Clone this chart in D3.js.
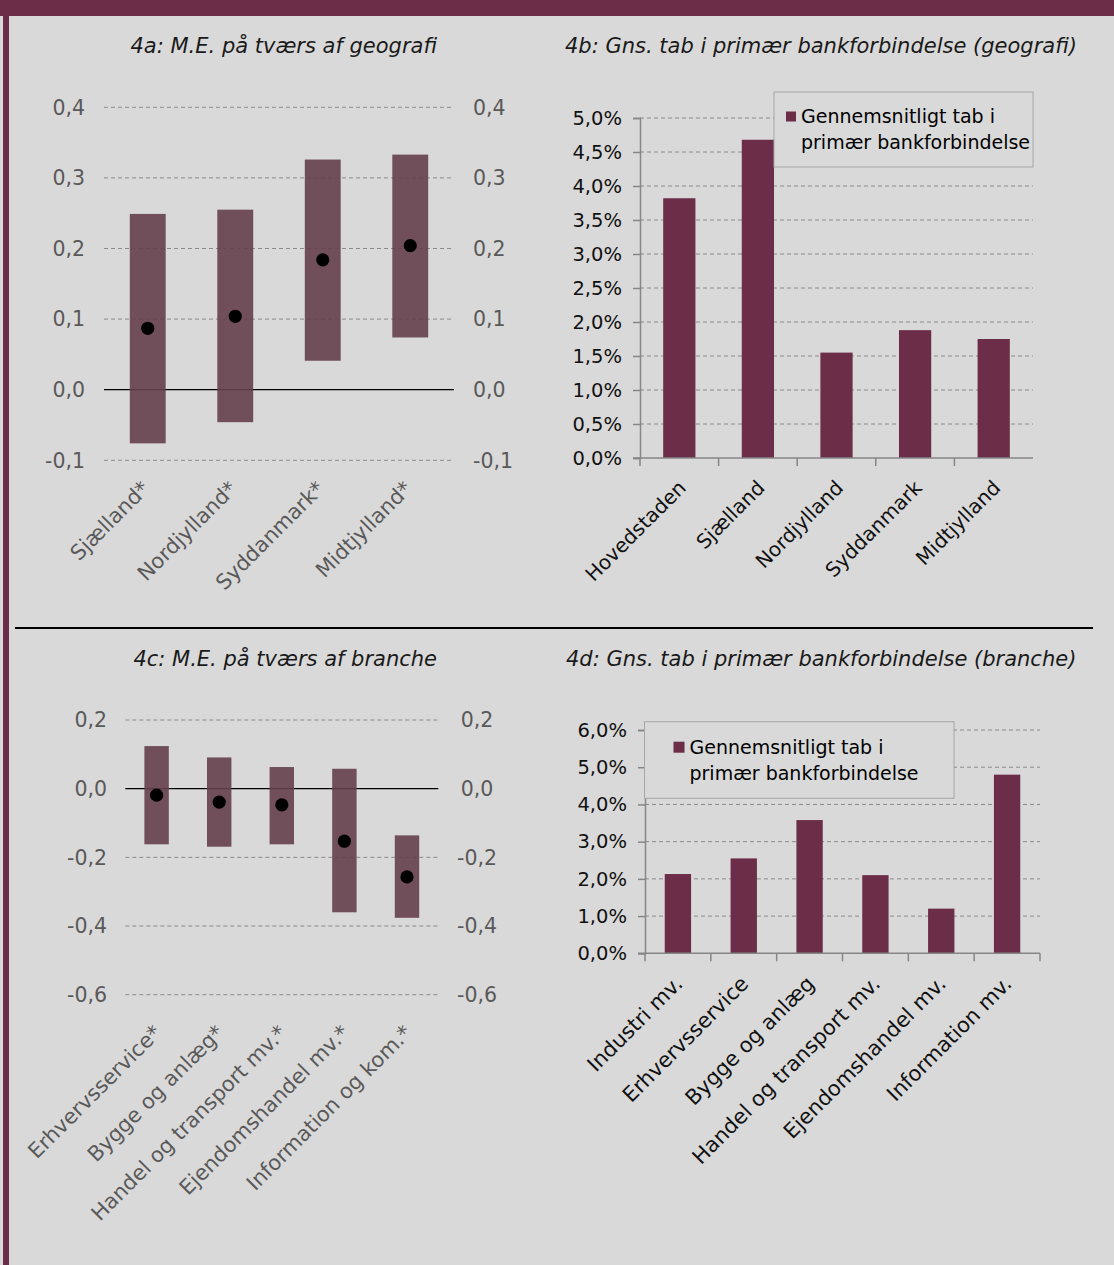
<!DOCTYPE html>
<html>
<head>
<meta charset="utf-8">
<script src="https://cdn.jsdelivr.net/npm/d3@7"></script>
<style>
    html, body { margin: 0; padding: 0; background: #d9d9d9; }
    svg { display: block; font-family: 'DejaVu Sans', Verdana, sans-serif; }
</style>
</head>
<body>
<svg id="chart" width="1114" height="1265"></svg>
<script>

// 4a: marginal effects by region
var geoMeCategories = [ 'Sjælland*', 'Nordjylland*', 'Syddanmark*', 'Midtjylland*' ];
var geoMeLow = [ -0.076, -0.046, 0.041, 0.074 ];
var geoMeHigh = [ 0.249, 0.255, 0.326, 0.333 ];
var geoMeEstimate = [ 0.087, 0.104, 0.184, 0.204 ];
var geoMeTicks = [ -0.1, 0, 0.1, 0.2, 0.3, 0.4 ];

// 4b: average loss by region
var geoLossCategories = [ 'Hovedstaden', 'Sjælland', 'Nordjylland', 'Syddanmark', 'Midtjylland' ];
var geoLossValues = [ 0.0382, 0.0468, 0.0155, 0.0188, 0.0175 ];
var geoLossTicks = [ 0, 0.005, 0.01, 0.015, 0.02, 0.025, 0.03, 0.035, 0.04, 0.045, 0.05 ];

// 4c: marginal effects by industry
var branchMeCategories = [ 'Erhvervsservice*', 'Bygge og anlæg*', 'Handel og transport mv.*', 'Ejendomshandel mv.*', 'Information og kom.*' ];
var branchMeLow = [ -0.162, -0.169, -0.162, -0.360, -0.376 ];
var branchMeHigh = [ 0.124, 0.091, 0.063, 0.058, -0.136 ];
var branchMeEstimate = [ -0.019, -0.039, -0.047, -0.153, -0.257 ];
var branchMeTicks = [ -0.6, -0.4, -0.2, 0, 0.2 ];

// 4d: average loss by industry
var branchLossCategories = [ 'Industri mv.', 'Erhvervsservice', 'Bygge og anlæg', 'Handel og transport mv.', 'Ejendomshandel mv.', 'Information mv.' ];
var branchLossValues = [ 0.0213, 0.0255, 0.0358, 0.0210, 0.0120, 0.0480 ];
var branchLossTicks = [ 0, 0.01, 0.02, 0.03, 0.04, 0.05, 0.06 ];

var legendLines = [ 'Gennemsnitligt tab i', 'primær bankforbindelse' ];

var maroon = '#6b2d47';
var gridColor = '#8a8a8a';

var locale = d3.formatLocale({ decimal: ',', thousands: '.', grouping: [ 3 ], currency: [ '', ' kr' ], minus: '-' });
var fmtMe = locale.format('.1f');
var fmtPct = locale.format('.1%');

var svg = d3.select('#chart');

svg.append('rect')
    .attr('width', 1114)
    .attr('height', 1265)
    .attr('fill', '#d9d9d9');

// frame
svg.append('rect')
    .attr('x', 0).attr('y', 0)
    .attr('width', 1114).attr('height', 16)
    .attr('fill', maroon);

svg.append('rect')
    .attr('x', 3).attr('y', 16)
    .attr('width', 6).attr('height', 1249)
    .attr('fill', maroon);

svg.append('line')
    .attr('x1', 15).attr('x2', 1093)
    .attr('y1', 628).attr('y2', 628)
    .attr('stroke', '#000')
    .attr('stroke-width', 2);

// titles
var titles = [
    { text: '4a: M.E. på tværs af geografi', x: 437, y: 53, anchor: 'end' },
    { text: '4b: Gns. tab i primær bankforbindelse (geografi)', x: 565, y: 53, anchor: 'start' },
    { text: '4c: M.E. på tværs af branche', x: 437, y: 666, anchor: 'end' },
    { text: '4d: Gns. tab i primær bankforbindelse (branche)', x: 566, y: 666, anchor: 'start' }
];

svg.selectAll('.title')
    .data( titles )
    .enter().append('text')
    .attr('class', 'title')
    .attr('x', function ( d ) { return d.x; })
    .attr('y', function ( d ) { return d.y; })
    .attr('text-anchor', function ( d ) { return d.anchor; })
    .style('font-style', 'italic')
    .style('font-size', '21px')
    .style('fill', '#1a1a1a')
    .text( function ( d ) { return d.text; });

function drawMePanel ( o ) {

    var g = svg.append('g');

    var x = d3.scaleBand()
        .domain( o.categories )
        .range([ o.left, o.right ])
        .paddingInner( o.padding )
        .paddingOuter( o.padding / 2 );

    var y = d3.scaleLinear()
        .domain([ o.ticks[0], o.ticks[ o.ticks.length - 1 ] ])
        .range([ o.bottom, o.top ]);

    g.selectAll('.grid')
        .data( o.ticks.filter( function ( t ) { return t !== 0; }) )
        .enter().append('line')
        .attr('x1', o.left).attr('x2', o.right)
        .attr('y1', function ( d ) { return y( d ); })
        .attr('y2', function ( d ) { return y( d ); })
        .attr('stroke', gridColor)
        .attr('stroke-dasharray', '4,3');

    g.append('line')
        .attr('x1', o.left).attr('x2', o.right)
        .attr('y1', y( 0 )).attr('y2', y( 0 ))
        .attr('stroke', '#000')
        .attr('stroke-width', 1.3);

    g.selectAll('.band')
        .data( o.categories )
        .enter().append('rect')
        .attr('x', function ( d ) { return x( d ); })
        .attr('width', x.bandwidth())
        .attr('y', function ( d, i ) { return y( o.high[i] ); })
        .attr('height', function ( d, i ) { return y( o.low[i] ) - y( o.high[i] ); })
        .attr('fill', '#643f4d')
        .attr('fill-opacity', 0.9);

    g.selectAll('.dot')
        .data( o.categories )
        .enter().append('circle')
        .attr('cx', function ( d ) { return x( d ) + x.bandwidth() / 2; })
        .attr('cy', function ( d, i ) { return y( o.estimate[i] ); })
        .attr('r', 6.6)
        .attr('fill', '#000');

    g.selectAll('.ylabel-left')
        .data( o.ticks )
        .enter().append('text')
        .attr('x', o.leftLabelX)
        .attr('y', function ( d ) { return y( d ); })
        .attr('dy', '0.36em')
        .attr('text-anchor', 'end')
        .style('font-size', o.fontSize + 'px')
        .style('fill', '#595959')
        .text( function ( d ) { return fmtMe( d ); });

    g.selectAll('.ylabel-right')
        .data( o.ticks )
        .enter().append('text')
        .attr('x', o.rightLabelX)
        .attr('y', function ( d ) { return y( d ); })
        .attr('dy', '0.36em')
        .attr('text-anchor', o.rightAnchor)
        .style('font-size', o.fontSize + 'px')
        .style('fill', '#595959')
        .text( function ( d ) { return fmtMe( d ); });

    g.selectAll('.xlabel')
        .data( o.categories )
        .enter().append('text')
        .attr('transform', function ( d ) {
            return 'translate(' + ( x( d ) + x.bandwidth() / 2 + o.labelDx ) + ',' + o.labelY + ') rotate(-45)';
        })
        .attr('text-anchor', 'end')
        .style('font-size', o.labelFontSize + 'px')
        .style('fill', '#595959')
        .text( function ( d ) { return d; });

}

function drawLossPanel ( o ) {

    var g = svg.append('g');

    var x = d3.scaleBand()
        .domain( o.categories )
        .range([ o.left, o.right ])
        .paddingInner( o.padding )
        .paddingOuter( o.padding / 2 );

    var y = d3.scaleLinear()
        .domain([ 0, o.ticks[ o.ticks.length - 1 ] ])
        .range([ o.bottom, o.top ]);

    g.selectAll('.grid')
        .data( o.ticks.slice( 1 ) )
        .enter().append('line')
        .attr('x1', o.left).attr('x2', o.right)
        .attr('y1', function ( d ) { return y( d ); })
        .attr('y2', function ( d ) { return y( d ); })
        .attr('stroke', gridColor)
        .attr('stroke-dasharray', '4,3');

    g.selectAll('.bar')
        .data( o.categories )
        .enter().append('rect')
        .attr('x', function ( d ) { return x( d ); })
        .attr('width', x.bandwidth())
        .attr('y', function ( d, i ) { return y( o.values[i] ); })
        .attr('height', function ( d, i ) { return y( 0 ) - y( o.values[i] ); })
        .attr('fill', maroon);

    var yAxis = g.append('g')
        .attr('transform', 'translate(' + o.left + ',0)')
        .call( d3.axisLeft( y ).tickValues( o.ticks ).tickSize( 7 ).tickPadding( 11 ).tickFormat( fmtPct ) );

    yAxis.selectAll('path, line')
        .attr('stroke', '#868686')
        .attr('stroke-width', 1.5);

    yAxis.selectAll('text')
        .attr('fill', '#111')
        .style('font-size', o.fontSize + 'px')
        .style('font-family', "'DejaVu Sans', Verdana, sans-serif");

    var bounds = o.categories.map( function ( d ) { return x( d ) - x.step() * x.paddingInner() / 2; });
    if ( o.lastTick ) bounds.push( o.right );

    g.append('line')
        .attr('x1', o.left - 7).attr('x2', o.right)
        .attr('y1', y( 0 )).attr('y2', y( 0 ))
        .attr('stroke', '#868686')
        .attr('stroke-width', 1.5);

    g.selectAll('.xtick')
        .data( bounds )
        .enter().append('line')
        .attr('x1', function ( d ) { return d; })
        .attr('x2', function ( d ) { return d; })
        .attr('y1', y( 0 )).attr('y2', y( 0 ) + 8)
        .attr('stroke', '#868686')
        .attr('stroke-width', 1.5);

    g.selectAll('.xlabel')
        .data( o.categories )
        .enter().append('text')
        .attr('transform', function ( d ) {
            return 'translate(' + ( x( d ) + x.bandwidth() / 2 + o.labelDx ) + ',' + o.labelY + ') rotate(-45)';
        })
        .attr('text-anchor', 'end')
        .style('font-size', o.labelFontSize + 'px')
        .style('fill', '#111')
        .text( function ( d ) { return d; });

    // legend
    var lg = o.legend;

    g.append('rect')
        .attr('x', lg.x).attr('y', lg.y)
        .attr('width', lg.w).attr('height', lg.h)
        .attr('fill', '#d9d9d9')
        .attr('stroke', '#a6a6a6')
        .attr('stroke-width', 1);

    g.append('rect')
        .attr('x', lg.x + lg.markerDx).attr('y', lg.y + lg.markerDy)
        .attr('width', lg.marker).attr('height', lg.marker)
        .attr('fill', maroon);

    g.selectAll('.legend-text')
        .data( legendLines )
        .enter().append('text')
        .attr('x', lg.x + lg.textDx)
        .attr('y', function ( d, i ) { return lg.y + lg.textDy + i * 26; })
        .style('font-size', '19px')
        .style('fill', '#000')
        .text( function ( d ) { return d; });

}

drawMePanel({
    categories: geoMeCategories,
    low: geoMeLow,
    high: geoMeHigh,
    estimate: geoMeEstimate,
    ticks: geoMeTicks,
    left: 104, right: 454, top: 107.3, bottom: 460.3,
    padding: 0.59,
    leftLabelX: 85, rightLabelX: 473, rightAnchor: 'start',
    fontSize: 20.5,
    labelDx: 3, labelY: 490, labelFontSize: 21
});

drawLossPanel({
    categories: geoLossCategories,
    values: geoLossValues,
    ticks: geoLossTicks,
    left: 640, right: 1033, top: 118, bottom: 458,
    padding: 0.59,
    fontSize: 19.5,
    labelDx: 8, labelY: 489, labelFontSize: 20,
    lastTick: false,
    legend: { x: 774, y: 92, w: 259, h: 75, markerDx: 12, markerDy: 19.5, marker: 10, textDx: 27, textDy: 31 }
});

drawMePanel({
    categories: branchMeCategories,
    low: branchMeLow,
    high: branchMeHigh,
    estimate: branchMeEstimate,
    ticks: branchMeTicks,
    left: 125.3, right: 438.3, top: 720, bottom: 994.7,
    padding: 0.61,
    leftLabelX: 107, rightLabelX: 477, rightAnchor: 'middle',
    fontSize: 20.5,
    labelDx: 6, labelY: 1034, labelFontSize: 21
});

drawLossPanel({
    categories: branchLossCategories,
    values: branchLossValues,
    ticks: branchLossTicks,
    left: 645, right: 1040, top: 730, bottom: 953.3,
    padding: 0.6,
    fontSize: 19.5,
    labelDx: 6, labelY: 985, labelFontSize: 21,
    lastTick: true,
    legend: { x: 644.5, y: 721.7, w: 309.5, h: 76.6, markerDx: 29, markerDy: 20, marker: 11, textDx: 45, textDy: 32.3 }
});

</script>
</body>
</html>
